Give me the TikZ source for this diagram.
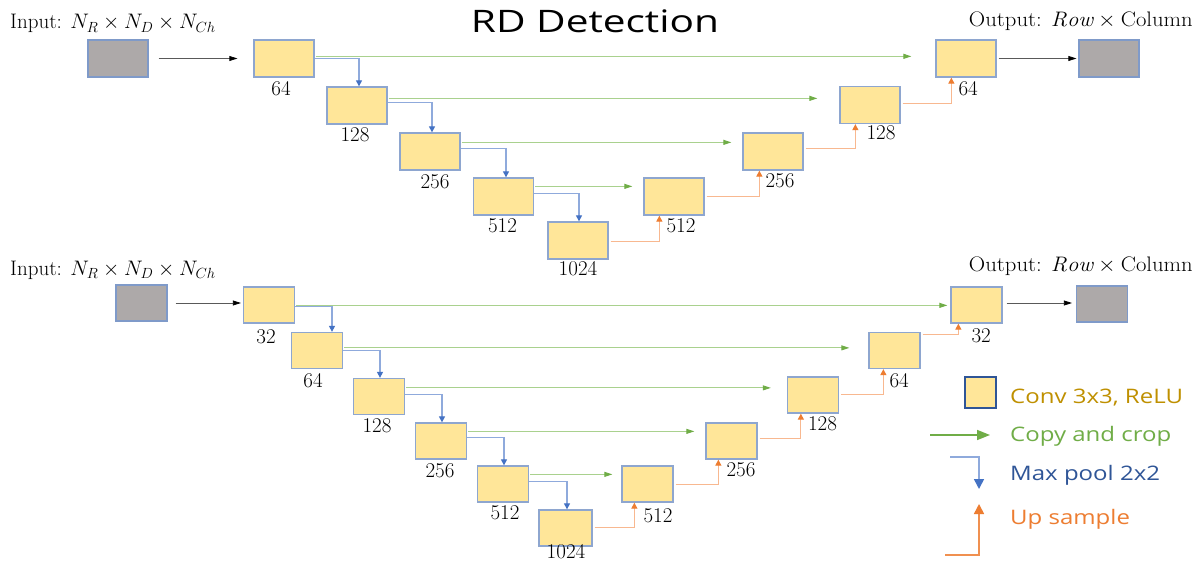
\RequirePackage{fix-cm}
\documentclass[tikz,border=0pt]{standalone}
\usepackage{fontspec}
\newfontfamily\sansfont{Open Sans}
\usetikzlibrary{arrows.meta,calc}

\definecolor{convfill}{HTML}{FFE699}
\definecolor{convedge}{HTML}{8EA6CF}
\definecolor{datafill}{HTML}{ADA9A9}
\definecolor{dataedge}{HTML}{7F9AC9}
\definecolor{copyline}{HTML}{A9D18E}
\definecolor{copyhead}{HTML}{70AD47}
\definecolor{poolline}{HTML}{8FAADC}
\definecolor{poolhead}{HTML}{4472C4}
\definecolor{upline}{HTML}{F8B890}
\definecolor{uphead}{HTML}{ED7D31}
\definecolor{convtext}{HTML}{BF9000}
\definecolor{pooltext}{HTML}{2F5597}
\definecolor{legendedge}{HTML}{2F5597}

\tikzset{
  conv/.style={draw=convedge, fill=convfill, line width=1.3pt,
    minimum width=60pt, minimum height=37pt, inner sep=0pt},
  convs/.style={conv, minimum width=51pt, minimum height=36pt},
  data/.style={conv, draw=dataedge, fill=datafill},
  datas/.style={convs, draw=dataedge, fill=datafill},
  copyarrow/.style={draw=copyline, line width=1pt,
    -{Triangle[length=8pt,width=5pt,color=copyhead]}},
  poolarrow/.style={draw=poolline, line width=1.2pt,
    -{Triangle[length=6pt,width=6pt,color=poolhead]}},
  uparrow/.style={draw=upline, line width=1.2pt,
    -{Triangle[length=6pt,width=6pt,color=uphead]}},
  feedarrow/.style={draw=black!65, line width=0.8pt,
    -{Triangle[length=8pt,width=5pt,color=black]}},
  num/.style={font=\fontsize{21}{24}\selectfont, inner sep=0pt},
  iolabel/.style={font=\fontsize{21}{24}\selectfont, inner sep=0pt},
  legendtext/.style={font=\sansfont\fontsize{20}{24}\selectfont, inner sep=0pt, anchor=west},
}

\newcommand{\lgtext}[1]{\scalebox{1.2}[1]{#1}}
\newcommand{\outtext}{\scalebox{1.08}[1]{Output: $\mathit{Row}\times{}$Column}}

\begin{document}
\begin{tikzpicture}[x=1pt,y=-1pt]
\useasboundingbox (0,0) rectangle (1201,561);
\fill[white] (0,0) rectangle (1201,561);

% ---------- title ----------
\node[font=\sansfont\fontsize{31}{36}\selectfont, inner sep=0pt] (title) at (595,21)
  {\scalebox{1.31}[1]{RD Detection}};

% ---------- upper network ----------
\node[iolabel, anchor=base west] (inlbl1) at (10,29) {Input: $N_R\times N_D\times N_{Ch}$};
\node[iolabel, anchor=base east] (outlbl1) at (1193,27) {\outtext};

\node[data] (in1) at (118,58.5) {};
\node[conv] (a1) at (284,58.5) {};
\node[conv] (a2) at (357,105.5) {};
\node[conv] (a3) at (430,151.5) {};
\node[conv] (a4) at (503.5,196.5) {};
\node[conv] (a5) at (578,240.5) {};
\node[conv] (d4) at (674,196.5) {};
\node[conv] (d3) at (773,151.5) {};
\node[conv] (d2) at (870,105) {};
\node[conv] (d1) at (966,58.5) {};
\node[data] (out1) at (1109,58.5) {};

\draw[feedarrow] ([xshift=10pt]in1.east) -- ([xshift=-16pt]in1.east -| a1.west);
\draw[feedarrow] ([xshift=2pt]d1.east) -- ([xshift=-2pt]d1.east -| out1.west);

% skip connections
\draw[copyarrow] ($(a1.north east)+(1,17)$) -- ($(a1.north east -| d1.west)+(-24,17)$);
\draw[copyarrow] ($(a2.north east)+(1,12)$) -- ($(a2.north east -| d2.west)+(-22,12)$);
\draw[copyarrow] ($(a3.north east)+(1,10)$) -- ($(a3.north east -| d3.west)+(-11,10)$);
\draw[copyarrow] ($(a4.north east)+(1,9)$) -- ($(a4.north east -| d4.west)+(-11,9)$);

% pooling steps
\draw[poolarrow] ($(a1.north east)+(0,19)$) -| ($(a2.north)+(2,0)$);
\draw[poolarrow] ($(a2.north east)+(0,16)$) -| ($(a3.north)+(2,0)$);
\draw[poolarrow] ($(a3.north east)+(0,16)$) -| ($(a4.north)+(2.5,0)$);
\draw[poolarrow] ($(a4.north east)+(0,16)$) -| ($(a5.north)+(1,0)$);

% upsampling steps
\draw[uparrow] ($(a5.north east)+(2,20)$) -| ($(d4.south west)+(16,0)$);
\draw[uparrow] ($(d4.north east)+(2,19)$) -| ($(d3.south west)+(17,0)$);
\draw[uparrow] ($(d3.north east)+(2,16)$) -| ($(d2.south west)+(16,0)$);
\draw[uparrow] ($(d2.north east)+(2,18)$) -| ($(d1.south west)+(16,0)$);

% channel counts
\node[num] (na1) at ($(a1.south)+(-3,11)$) {64};
\node[num] (na2) at ($(a2.south)+(-2,10)$) {128};
\node[num] (na3) at ($(a3.south)+(5,11)$) {256};
\node[num] (na4) at ($(a4.south)+(-1,10)$) {512};
\node[num] (na5) at ($(a5.south)+(0,9)$) {1024};
\node[num, anchor=west] (nd4) at ($(d4.south west)+(23,10)$) {512};
\node[num, anchor=west] (nd3) at ($(d3.south west)+(23,10)$) {256};
\node[num, anchor=west] (nd2) at ($(d2.south west)+(27,9)$) {128};
\node[num, anchor=west] (nd1) at ($(d1.south west)+(23,11)$) {64};

% ---------- lower network ----------
\node[iolabel, anchor=base west] (inlbl2) at (10,275) {Input: $N_R\times N_D\times N_{Ch}$};
\node[iolabel, anchor=base east] (outlbl2) at (1193,272) {\outtext};

\node[datas] (in2) at (141.5,303) {};
\node[convs] (b1) at (269,305) {};
\node[convs] (b2) at (317,350.5) {};
\node[convs] (b3) at (379,396.5) {};
\node[convs] (b4) at (441,441) {};
\node[convs] (b5) at (503,484) {};
\node[convs, minimum width=53pt] (b6) at (565.5,528) {};
\node[convs] (e5) at (647.5,484) {};
\node[convs] (e4) at (731.5,441) {};
\node[convs] (e3) at (813,395) {};
\node[convs] (e2) at (894.5,350.5) {};
\node[convs] (e1) at (976.5,305) {};
\node[datas] (out2) at (1102,304) {};

\draw[feedarrow] ([xshift=8pt]in2.east) -- ([xshift=-2pt]in2.east -| b1.west);
\draw[feedarrow] ([xshift=4pt,yshift=2pt]e1.east) -- ([xshift=-4pt,yshift=2pt]e1.east -| out2.west);

\draw[copyarrow] ($(b1.north east)+(1,19)$) -- ($(b1.north east -| e1.west)+(-3,19)$);
\draw[copyarrow] ($(b2.north east)+(1,16)$) -- ($(b2.north east -| e2.west)+(-19,16)$);
\draw[copyarrow] ($(b3.north east)+(1,10)$) -- ($(b3.north east -| e3.west)+(-16,10)$);
\draw[copyarrow] ($(b4.north east)+(1,9)$) -- ($(b4.north east -| e4.west)+(-11,9)$);
\draw[copyarrow] ($(b5.north east)+(1,9)$) -- ($(b5.north east -| e5.west)+(-9,9)$);

\draw[poolarrow] ($(b1.north east)+(0,20)$) -| ($(b2.north)+(15,0)$);
\draw[poolarrow] ($(b2.north east)+(0,19)$) -| ($(b3.north)+(1,0)$);
\draw[poolarrow] ($(b3.north east)+(0,17)$) -| ($(b4.north)+(1,0)$);
\draw[poolarrow] ($(b4.north east)+(0,15)$) -| ($(b5.north)+(1,0)$);
\draw[poolarrow] ($(b5.north east)+(0,16)$) -| ($(b6.north)+(1.5,0)$);

\draw[uparrow] ($(b6.north east)+(2,18)$) -| ($(e5.south west)+(13,0)$);
\draw[uparrow] ($(e5.north east)+(2,19)$) -| ($(e4.south west)+(13,0)$);
\draw[uparrow] ($(e4.north east)+(2,16)$) -| ($(e3.south west)+(14,0)$);
\draw[uparrow] ($(e3.north east)+(2,18)$) -| ($(e2.south west)+(15,0)$);
\draw[uparrow] ($(e2.north east)+(2,3)$) -| ($(e1.south west)+(8,0)$);

\node[num] (nb1) at ($(b1.south)+(-3,13)$) {32};
\node[num] (nb2) at ($(b2.south)+(-4,11)$) {64};
\node[num] (nb3) at ($(b3.south)+(-2,10.5)$) {128};
\node[num] (nb4) at ($(b4.south)+(-1,11)$) {256};
\node[num] (nb5) at ($(b5.south)+(2,10)$) {512};
\node[num] (nb6) at ($(b6.south)+(0.5,5)$) {1024};
\node[num, anchor=west] (ne5) at ($(e5.south west)+(22,13)$) {512};
\node[num, anchor=west] (ne4) at ($(e4.south west)+(21,10)$) {256};
\node[num, anchor=west] (ne3) at ($(e3.south west)+(21,10)$) {128};
\node[num, anchor=west] (ne2) at ($(e2.south west)+(21,11)$) {64};
\node[num, anchor=west] (ne1) at ($(e1.south west)+(21,12)$) {32};

% ---------- legend ----------
\node[draw=legendedge, fill=convfill, line width=2.5pt, minimum size=31pt, inner sep=0pt]
  (lgconv) at (980.5,392.5) {};
\node[legendtext, text=convtext] (lgconvtxt) at (1010,398) {\lgtext{Conv 3x3, ReLU}};

\coordinate (cpA) at (930,435);
\coordinate (cpB) at (990,435);
\draw[draw=copyhead, line width=1.6pt, -{Triangle[length=13pt,width=10pt]}] (cpA) -- (cpB);
\node[legendtext, text=copyhead] (lgcopytxt) at (1010,436.5) {\lgtext{Copy and crop}};

\coordinate (mpA) at (950,457);
\coordinate (mpB) at (979,489);
\draw[draw=poolline, line width=1.6pt, -{Triangle[length=10pt,width=10pt,color=poolhead]}] (mpA) -| (mpB);
\node[legendtext, text=pooltext] (lgpooltxt) at (1010,475.5) {\lgtext{Max pool 2x2}};

\coordinate (upA) at (945,555);
\coordinate (upB) at (979,504);
\draw[draw=uphead!85, line width=1.6pt, -{Triangle[length=10pt,width=10pt,color=uphead]}] (upA) -| (upB);
\node[legendtext, text=uphead] (lguptxt) at (1010,519) {\lgtext{Up sample}};
\end{tikzpicture}
\end{document}
